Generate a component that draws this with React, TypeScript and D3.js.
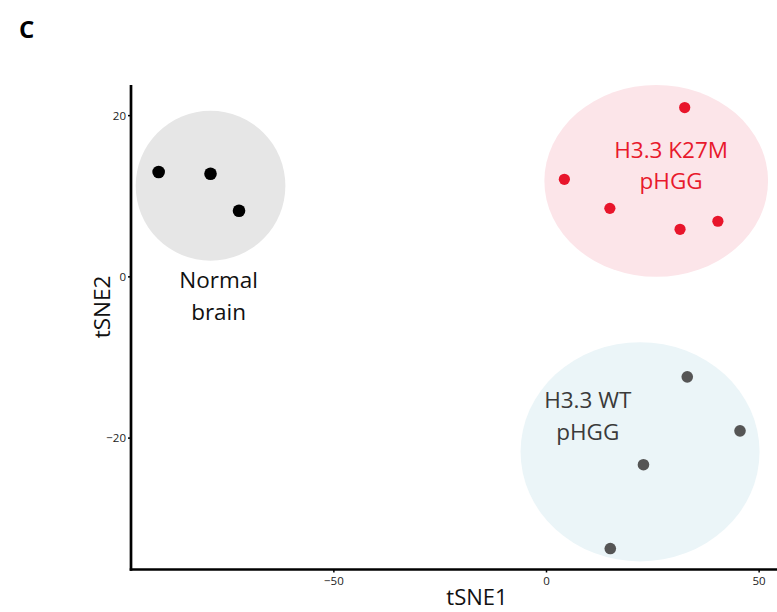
import React from "react";
import * as d3 from "d3";

const normalX = [-91.2, -79.0, -72.3];
const normalY = [13.0, 12.8, 8.2];
const k27mX = [32.5, 4.2, 14.9, 31.4, 40.3];
const k27mY = [21.0, 12.1, 8.5, 5.9, 6.9];
const wtX = [33.1, 45.5, 22.8, 15.0];
const wtY = [-12.4, -19.1, -23.3, -33.7];

const xTicks = [-50, 0, 50];
const yTicks = [-20, 0, 20];

// cluster ellipses in data units
const clusterNames = ["normal", "k27m", "wt"];
const clusterCx = [-79.0, 25.8, 22.0];
const clusterCy = [11.3, 11.9, -21.7];
const clusterRx = [17.6, 26.3, 28.1];
const clusterRy = [9.3, 11.9, 13.6];

const labelLines = [["Normal", "brain"], ["H3.3 K27M", "pHGG"], ["H3.3 WT", "pHGG"]];
const labelX = [-77.1, 29.3, 9.7];
const labelY = [-1.4, 14.8, -16.3];

const W = 777, H = 612;
const left = 131, right = 777, top = 85, bottom = 569.5;

export default function App() {
  const x = d3.scaleLinear().domain([-97.7, 54.2]).range([left, right]);
  const y = d3.scaleLinear().domain([-36.3, 23.8]).range([bottom, top]);
  const font = "'Open Sans', 'Noto Sans', sans-serif";
  const fills = ["#e6e6e6", "#fce5e9", "#ebf5f8"];
  const pointColors = ["#000000", "#e8152b", "#555555"];
  const textColors = ["#111111", "#e8192c", "#3a3a3a"];
  const groups = [
    { xs: normalX, ys: normalY, r: 6.3 },
    { xs: k27mX, ys: k27mY, r: 5.6 },
    { xs: wtX, ys: wtY, r: 5.8 },
  ];
  const lineGap = 31.5;
  return (
    <svg width={W} height={H} style={{ display: "block", position: "absolute", left: 0, top: 0 }}>
      <rect width={W} height={H} fill="#fff" />
      <text x={19} y={38} fontFamily={font} fontWeight="bold" fontSize={24} fill="#000">C</text>
      {clusterNames.map((n, i) => (
        <ellipse
          key={n}
          cx={x(clusterCx[i])}
          cy={y(clusterCy[i])}
          rx={x(clusterCx[i] + clusterRx[i]) - x(clusterCx[i])}
          ry={y(clusterCy[i] - clusterRy[i]) - y(clusterCy[i])}
          fill={fills[i]}
        />
      ))}
      {groups.map((g, gi) =>
        g.xs.map((v, i) => (
          <circle key={gi + "-" + i} cx={x(v)} cy={y(g.ys[i])} r={g.r} fill={pointColors[gi]} />
        ))
      )}
      {labelLines.map((lines, i) =>
        lines.map((t, j) => (
          <text
            key={i + "-" + j}
            x={x(labelX[i])}
            y={y(labelY[i]) + j * lineGap}
            textAnchor="middle"
            fontFamily={font}
            fontSize={22.5}
            fill={textColors[i]}
          >
            {t}
          </text>
        ))
      )}
      <line x1={left} x2={left} y1={top} y2={bottom + 1.3} stroke="#000" strokeWidth={2.7} />
      <line x1={left - 1.3} x2={right} y1={bottom} y2={bottom} stroke="#000" strokeWidth={2.7} />
      {xTicks.map((t) => (
        <g key={"x" + t}>
          <line x1={x(t)} x2={x(t)} y1={bottom} y2={bottom + 3} stroke="#000" strokeWidth={1.5} />
          <text x={x(t)} y={bottom + 15} textAnchor="middle" fontFamily={font} fontSize={11.5} fill="#222">
            {t < 0 ? "\u2212" + Math.abs(t) : t}
          </text>
        </g>
      ))}
      {yTicks.map((t) => (
        <g key={"y" + t}>
          <line x1={left - 3} x2={left} y1={y(t)} y2={y(t)} stroke="#000" strokeWidth={1.5} />
          <text x={left - 5} y={y(t)} dy="0.35em" textAnchor="end" fontFamily={font} fontSize={11.5} fill="#222">
            {t < 0 ? "\u2212" + Math.abs(t) : t}
          </text>
        </g>
      ))}
      <text x={477} y={605} textAnchor="middle" fontFamily={font} fontSize={22} fill="#111">tSNE1</text>
      <text
        transform={`translate(110,307) rotate(-90)`}
        textAnchor="middle"
        fontFamily={font}
        fontSize={22.5}
        fill="#111"
      >
        tSNE2
      </text>
    </svg>
  );
}
